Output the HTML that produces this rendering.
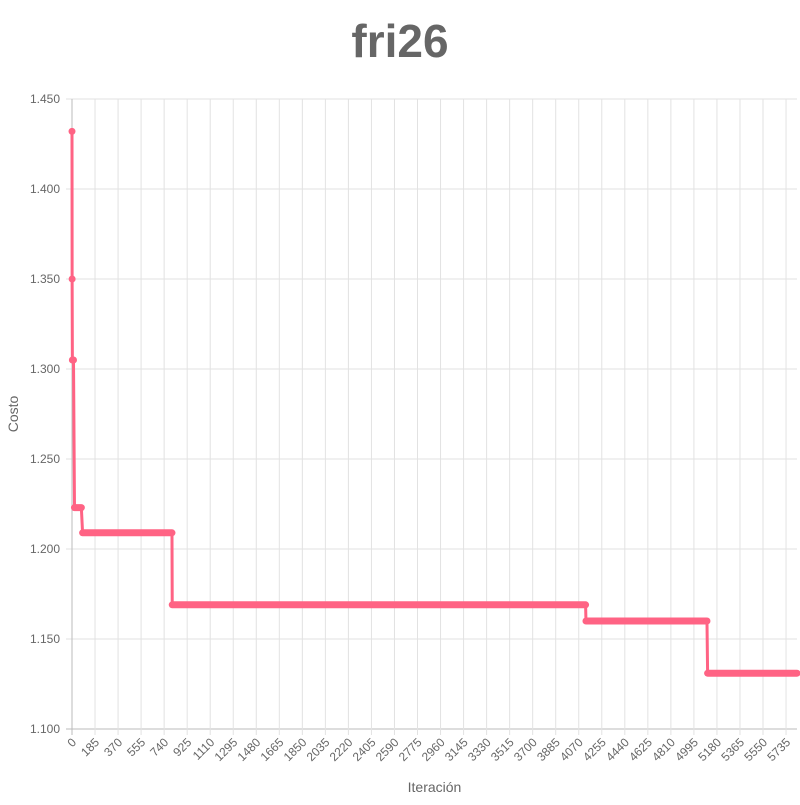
<!DOCTYPE html>
<html><head><meta charset="utf-8"><style>
body{margin:0;background:#fff;font-family:"Liberation Sans",sans-serif}
svg text{font-family:"Liberation Sans",sans-serif;fill:#666}
</style></head><body>
<svg id="c" width="800" height="800" xmlns="http://www.w3.org/2000/svg"></svg>
<script>
const segStart=[0,1,3,20,85,805,4128,5105];
const segEnd=[0,1,12,75,803,4125,5100,5823];
const segCost=[1.432,1.350,1.305,1.223,1.209,1.169,1.160,1.131];
const yTicks=[1.100,1.150,1.200,1.250,1.300,1.350,1.400,1.450];
const xStep=185;
const xMaxLabel=5735;
const nPoints=5824;
const L=72,R=797,T=99,B=729;
const yMin=1.1,yMax=1.45;
const sx=i=>L+(i/(nPoints-1))*(R-L);
const sy=v=>B-(v-yMin)/(yMax-yMin)*(B-T);
const svg=document.getElementById('c');
const NS='http://www.w3.org/2000/svg';
function mk(t,a,p){const e=document.createElementNS(NS,t);for(const k in a)e.setAttribute(k,a[k]);(p||svg).appendChild(e);return e;}
const title=mk('text',{x:400,y:57,'text-anchor':'middle','font-size':46,'font-weight':'bold'});title.textContent='fri26';


const grid=mk('g',{});


yTicks.forEach(v=>{const y=sy(v);
 mk('line',{x1:L-6,x2:R,y1:y,y2:y,stroke:v===yMin?'#bbb':'#e2e2e2','stroke-width':1},grid);
 const t=mk('text',{x:L-12,y:y+4,'text-anchor':'end','font-size':12});t.textContent=v.toFixed(3);
 
 
});
for(let v=0;v<=xMaxLabel;v+=xStep){const x=sx(v);
 mk('line',{x1:x,x2:x,y1:T,y2:B+6,stroke:v===0?'#bbb':'#e2e2e2','stroke-width':1},grid);
 const t=mk('text',{x:0,y:0,'text-anchor':'end','font-size':12,transform:`translate(${x+5},${B+14}) rotate(-45)`});t.textContent=v;
 
 
}
const yt=mk('text',{x:0,y:0,'text-anchor':'middle','font-size':14,transform:`translate(18,${(T+B)/2}) rotate(-90)`});yt.textContent='Costo';


const xt=mk('text',{x:(L+R)/2,y:792,'text-anchor':'middle','font-size':14});xt.textContent='Iteración';


const g=mk('g',{});


let d='';
segCost.forEach((c,i)=>{d+=(i?'L':'M')+sx(segStart[i])+' '+sy(c)+' L'+sx(segEnd[i])+' '+sy(c)+' ';});
mk('path',{d:d,fill:'none',stroke:'#ff6384','stroke-width':3},g);
segCost.forEach((c,i)=>{
 const x1=sx(segStart[i]),x2=sx(segEnd[i]),y=sy(c);
 if(segEnd[i]-segStart[i]>2){const l=mk('line',{x1:x1,x2:x2,y1:y,y2:y,stroke:'#ff6384','stroke-width':7,'stroke-linecap':'round'},g);
  
  }
 else{const p=mk('circle',{cx:x1,cy:y,r:3.5,fill:'#ff6384'},g);
  
  }
});
</script>
</body></html>
